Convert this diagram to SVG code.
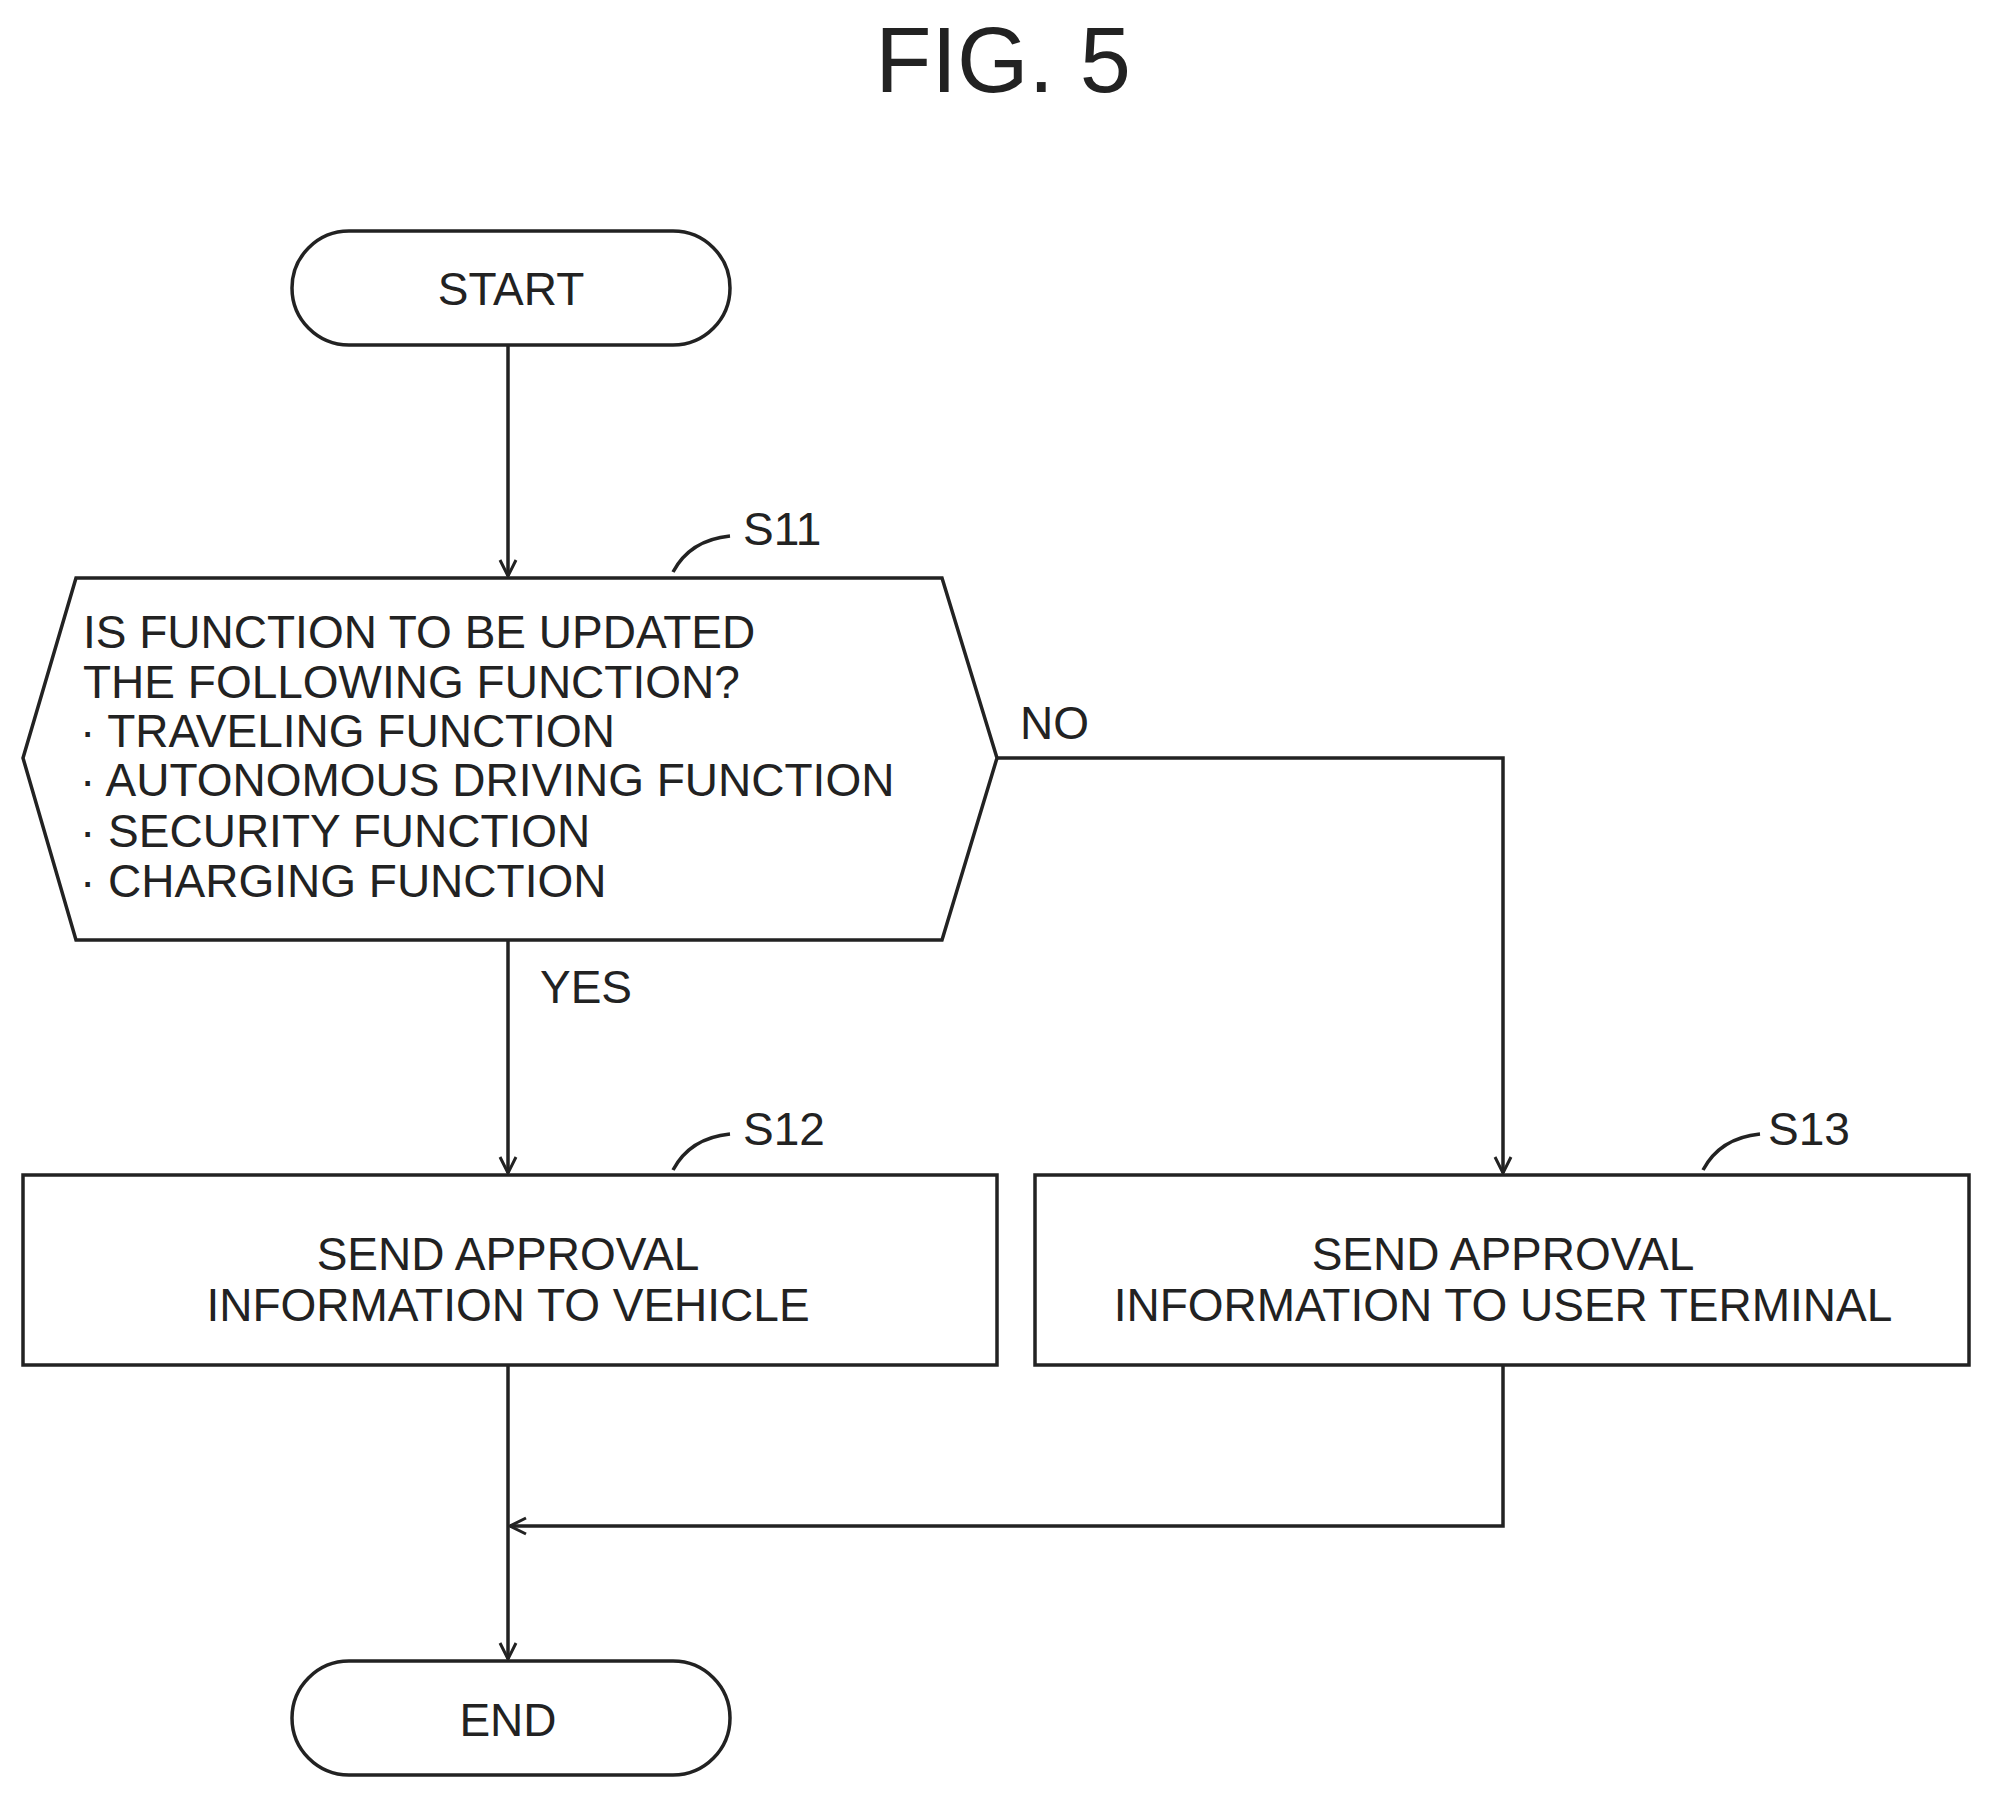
<svg xmlns="http://www.w3.org/2000/svg" width="1992" height="1798" viewBox="0 0 1992 1798">
<defs>
<style>
.s{fill:#fff;stroke:#222;stroke-width:3.5}
.c{fill:none;stroke:#222;stroke-width:3.5}
text{font-family:"Liberation Sans",Arial,sans-serif;fill:#222}
.t{font-size:46px}
.m{text-anchor:middle}
</style>
<marker id="a" viewBox="0 0 20 20" refX="18" refY="10" markerWidth="20" markerHeight="20" markerUnits="userSpaceOnUse" orient="auto">
<path d="M2,2 L18,10 L2,18" fill="none" stroke="#222" stroke-width="3"/>
</marker>
</defs>
<text x="1003" y="92" class="m" font-size="92">FIG. 5</text>
<g id="connectors">
<line class="c" x1="508" y1="345" x2="508" y2="576" marker-end="url(#a)"/>
<line class="c" x1="508" y1="940" x2="508" y2="1173" marker-end="url(#a)"/>
<polyline class="c" points="997,758 1503,758 1503,1173" marker-end="url(#a)"/>
<polyline class="c" points="1503,1365 1503,1526 510,1526" marker-end="url(#a)"/>
<line class="c" x1="508" y1="1365" x2="508" y2="1659" marker-end="url(#a)"/>
<text x="1020" y="739" class="t">NO</text>
<text x="540" y="1003" class="t">YES</text>
</g>
<g id="start">
<rect class="s" x="292" y="231" width="438" height="114" rx="57"/>
<text x="511" y="305" class="t m">START</text>
</g>
<g id="s11">
<polygon class="s" points="76,578 942,578 997,758 942,940 76,940 23,758"/>
<path class="c" d="M673,572 Q690,540 730,536"/>
<text x="743" y="545" class="t">S11</text>
<text class="t" x="83">
<tspan x="83" y="648">IS FUNCTION TO BE UPDATED</tspan>
<tspan x="83" y="698">THE FOLLOWING FUNCTION?</tspan>
<tspan x="80" y="747">· TRAVELING FUNCTION</tspan>
<tspan x="80" y="796">· AUTONOMOUS DRIVING FUNCTION</tspan>
<tspan x="80" y="847">· SECURITY FUNCTION</tspan>
<tspan x="80" y="897">· CHARGING FUNCTION</tspan>
</text>
</g>
<g id="s12">
<rect class="s" x="23" y="1175" width="974" height="190"/>
<path class="c" d="M673,1170 Q690,1138 730,1134"/>
<text x="743" y="1145" class="t">S12</text>
<text class="t m"><tspan x="508" y="1270">SEND APPROVAL</tspan><tspan x="508" y="1321">INFORMATION TO VEHICLE</tspan></text>
</g>
<g id="s13">
<rect class="s" x="1035" y="1175" width="934" height="190"/>
<path class="c" d="M1703,1170 Q1720,1138 1760,1134"/>
<text x="1768" y="1145" class="t">S13</text>
<text class="t m"><tspan x="1503" y="1270">SEND APPROVAL</tspan><tspan x="1503" y="1321">INFORMATION TO USER TERMINAL</tspan></text>
</g>
<g id="end">
<rect class="s" x="292" y="1661" width="438" height="114" rx="57"/>
<text x="508" y="1736" class="t m">END</text>
</g>
</svg>
